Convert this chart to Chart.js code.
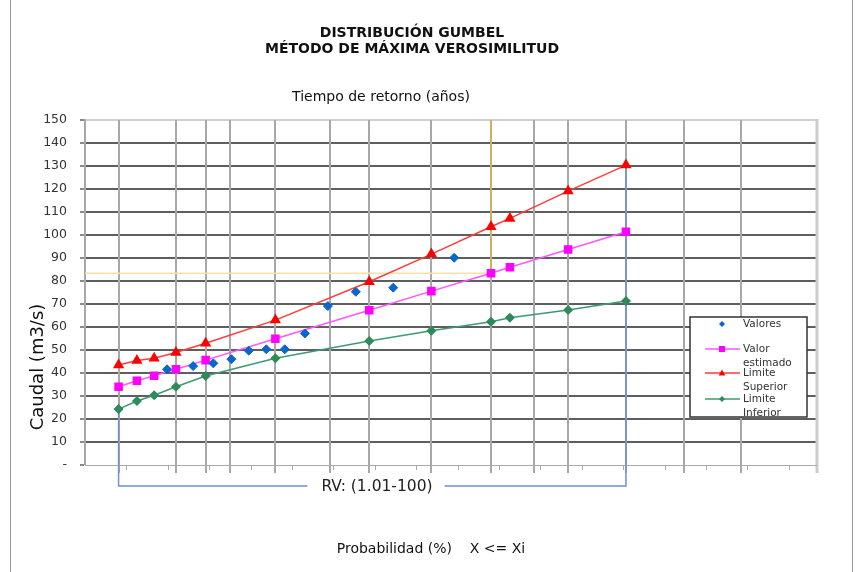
<!DOCTYPE html>
<html>
<head>
<meta charset="utf-8">
<script src="https://cdn.jsdelivr.net/npm/chart.js@4/dist/chart.umd.min.js"></script>
<style>
  html, body { margin: 0; padding: 0; background: #ffffff; }
  #wrap { position: relative; width: 863px; height: 572px; }
</style>
</head>
<body>
<div id="wrap"><canvas id="c" width="863" height="572"></canvas></div>
<script>
// Gumbel plot: probabilities in % (non-exceedance), flows in m3/s
const probRange = [0.1, 99.9];
const probGrid = [1, 10, 20, 30, 50, 70, 80, 90, 95, 97, 98, 99, 99.5, 99.75];

const probEst = [1, 2.5, 5, 10, 20, 50, 80, 90, 95, 96, 98, 99];
const valorEstimado = [34.0, 36.6, 38.8, 41.6, 45.6, 54.9, 67.3, 75.6, 83.4, 86.0, 93.7, 101.4];
const limiteSuperior = [43.5, 45.4, 46.4, 48.9, 52.9, 63.0, 79.7, 91.7, 103.6, 107.2, 119.1, 130.4];
const limiteInferior = [24.3, 27.8, 30.3, 34.0, 38.7, 46.4, 53.9, 58.4, 62.3, 64.0, 67.4, 71.3];

const probObs = [7.69, 15.38, 23.08, 30.77, 38.46, 46.15, 53.85, 61.54, 69.23, 76.92, 84.62, 92.31];
const valores = [41.6, 43.0, 44.2, 46.0, 49.7, 50.3, 50.3, 57.2, 69.1, 75.3, 77.1, 90.1];

const yMin = 0, yMax = 150, yStep = 10;
const designProb = 95;            // T = 20 años
const rvProbs = [1, 99];          // T = 1.01 ... 100
const rvLabel = 'RV: (1.01-100)';

const titleLines = ['DISTRIBUCIÓN GUMBEL', 'MÉTODO DE MÁXIMA VEROSIMILITUD'];
const topAxisTitle = 'Tiempo de retorno (años)';
const bottomAxisTitle = 'Probabilidad (%)    X <= Xi';
const yAxisTitle = 'Caudal (m3/s)';

// reduced Gumbel variate for a non-exceedance probability in %
function gumbel(p) { return -Math.log(-Math.log(p / 100)); }
function pts(ps, vs) { return ps.map((p, i) => ({ x: gumbel(p), y: vs[i] })); }

const FONT = '"DejaVu Sans", Verdana, sans-serif';

function drawMarker(ctx, style, cx, cy, r) {
  if (style === 'rect') {
    ctx.rect(cx - r, cy - r, 2 * r, 2 * r);
  } else if (style === 'triangle') {
    ctx.moveTo(cx, cy - r * 1.2); ctx.lineTo(cx + r * 1.1, cy + r * 0.8); ctx.lineTo(cx - r * 1.1, cy + r * 0.8); ctx.closePath();
  } else if (style === 'rectRot') {
    ctx.moveTo(cx, cy - r); ctx.lineTo(cx + r, cy); ctx.lineTo(cx, cy + r); ctx.lineTo(cx - r, cy); ctx.closePath();
  } else {
    ctx.arc(cx, cy, r, 0, Math.PI * 2);
  }
}

const decor = {
  id: 'decor',
  beforeDatasetsDraw(chart) {
    const { ctx, chartArea: a, scales: { x, y } } = chart;
    ctx.save();
    // vertical grid at return-period probabilities
    ctx.strokeStyle = '#a8a8a8';
    ctx.lineWidth = 2;
    probGrid.forEach(p => {
      const px = Math.round(x.getPixelForValue(gumbel(p)));
      ctx.beginPath(); ctx.moveTo(px, a.top); ctx.lineTo(px, a.bottom + 8); ctx.stroke();
    });
    // right frame of the plot
    ctx.strokeStyle = '#cccccc';
    ctx.lineWidth = 3;
    ctx.beginPath(); ctx.moveTo(a.right, a.top - 1); ctx.lineTo(a.right, a.bottom + 8); ctx.stroke();
    // minor ticks on the bottom axis
    ctx.strokeStyle = '#aaaaaa';
    ctx.lineWidth = 1;
    for (let v = x.min + 0.5; v < x.max; v += 0.5) {
      const px = Math.round(x.getPixelForValue(v)) + 0.5;
      ctx.beginPath(); ctx.moveTo(px, a.bottom); ctx.lineTo(px, a.bottom + 5); ctx.stroke();
    }
    ctx.beginPath(); ctx.moveTo(a.left, a.bottom + 0.5); ctx.lineTo(a.right, a.bottom + 0.5); ctx.stroke();

    // design flow guide lines (T = 20)
    const qd = valorEstimado[probEst.indexOf(designProb)];
    const xd = x.getPixelForValue(gumbel(designProb));
    const yd = y.getPixelForValue(qd);
    ctx.lineWidth = 1.5;
    ctx.strokeStyle = '#fbe0a4';
    ctx.beginPath(); ctx.moveTo(a.left, yd); ctx.lineTo(xd, yd); ctx.stroke();
    ctx.strokeStyle = '#d8b24c';
    ctx.beginPath(); ctx.moveTo(xd, yd); ctx.lineTo(xd, a.top); ctx.stroke();

    // return-period range bracket
    const x1 = x.getPixelForValue(gumbel(rvProbs[0]));
    const x2 = x.getPixelForValue(gumbel(rvProbs[1]));
    const y1 = y.getPixelForValue(limiteInferior[probEst.indexOf(rvProbs[0])]);
    const y2 = y.getPixelForValue(limiteSuperior[probEst.indexOf(rvProbs[1])]);
    const yb = a.bottom + 21;
    ctx.font = '15.5px ' + FONT;
    const tw = ctx.measureText(rvLabel).width;
    const tc = 377;
    ctx.strokeStyle = '#6f8fd8';
    ctx.lineWidth = 1.5;
    ctx.beginPath();
    ctx.moveTo(x1, y1); ctx.lineTo(x1, yb); ctx.lineTo(tc - tw / 2 - 14, yb);
    ctx.moveTo(tc + tw / 2 + 12, yb); ctx.lineTo(x2, yb); ctx.lineTo(x2, y2);
    ctx.stroke();
    ctx.fillStyle = '#222';
    ctx.textAlign = 'center';
    ctx.textBaseline = 'middle';
    ctx.fillText(rvLabel, tc, yb + 1);
    ctx.restore();
  },
  afterDraw(chart) {
    const { ctx } = chart;
    ctx.save();
    // outer frame
    ctx.strokeStyle = '#9a9a9a';
    ctx.lineWidth = 1;
    ctx.beginPath();
    ctx.moveTo(10.5, 0); ctx.lineTo(10.5, 572);
    ctx.moveTo(852.5, 0); ctx.lineTo(852.5, 572);
    ctx.stroke();

    // titles
    ctx.fillStyle = '#111';
    ctx.textAlign = 'center';
    ctx.textBaseline = 'middle';
    ctx.font = 'bold 14px ' + FONT;
    ctx.fillText(titleLines[0], 412, 33);
    ctx.fillText(titleLines[1], 412, 49);
    ctx.font = '14px ' + FONT;
    ctx.fillText(topAxisTitle, 381, 97);
    ctx.fillText(bottomAxisTitle, 431, 549);
    ctx.save();
    ctx.translate(38, 367);
    ctx.rotate(-Math.PI / 2);
    ctx.font = '18px ' + FONT;
    ctx.fillText(yAxisTitle, 0, 0);
    ctx.restore();

    // legend box
    const lx = 690, ly = 317, lw = 117, lh = 100;
    ctx.fillStyle = '#ffffff';
    ctx.fillRect(lx, ly, lw, lh);
    ctx.strokeStyle = '#333';
    ctx.lineWidth = 1.5;
    ctx.strokeRect(lx, ly, lw, lh);
    const rows = [
      { ds: 0, lines: ['Valores'], y: 324 },
      { ds: 1, lines: ['Valor', 'estimado'], y: 349 },
      { ds: 2, lines: ['Limite', 'Superior'], y: 373 },
      { ds: 3, lines: ['Limite', 'Inferior'], y: 399 }
    ];
    ctx.font = '10.5px ' + FONT;
    ctx.textAlign = 'left';
    rows.forEach(r => {
      const d = chart.data.datasets[r.ds];
      if (d.showLine) {
        ctx.strokeStyle = d.borderColor;
        ctx.lineWidth = 1.5;
        ctx.beginPath(); ctx.moveTo(705, r.y); ctx.lineTo(740, r.y); ctx.stroke();
      }
      ctx.fillStyle = d.pointBackgroundColor;
      ctx.beginPath();
      drawMarker(ctx, d.pointStyle, 722, r.y, 3);
      ctx.fill();
      ctx.fillStyle = '#333';
      r.lines.forEach((t, i) => ctx.fillText(t, 743, r.y + i * 14.5));
    });
    ctx.restore();
  }
};

new Chart(document.getElementById('c'), {
  type: 'scatter',
  data: {
    datasets: [
      {
        label: 'Valores',
        data: pts(probObs, valores),
        showLine: false,
        pointStyle: 'rectRot',
        pointRadius: 4.5,
        pointBackgroundColor: '#0a66cc',
        pointBorderColor: '#0a66cc',
        borderColor: '#0a66cc'
      },
      {
        label: 'Valor estimado',
        data: pts(probEst, valorEstimado),
        showLine: true,
        borderColor: '#ff55ff',
        borderWidth: 1.5,
        pointStyle: 'rect',
        pointRadius: 5,
        pointBackgroundColor: '#ff00ff',
        pointBorderColor: '#ff00ff'
      },
      {
        label: 'Limite Superior',
        data: pts(probEst, limiteSuperior),
        showLine: true,
        borderColor: '#ff3b3b',
        borderWidth: 1.5,
        pointStyle: 'triangle',
        pointRadius: 5,
        pointBackgroundColor: '#ff0000',
        pointBorderColor: '#ff0000'
      },
      {
        label: 'Limite Inferior',
        data: pts(probEst, limiteInferior),
        showLine: true,
        borderColor: '#3d9a70',
        borderWidth: 1.5,
        pointStyle: 'rectRot',
        pointRadius: 4,
        pointBackgroundColor: '#2e8b5a',
        pointBorderColor: '#2e8b5a'
      }
    ]
  },
  options: {
    responsive: false,
    animation: false,
    events: [],
    layout: { padding: { left: 0, top: 120, right: 46, bottom: 107 } },
    plugins: { legend: { display: false }, tooltip: { enabled: false }, title: { display: false } },
    scales: {
      x: {
        type: 'linear',
        display: false,
        min: gumbel(probRange[0]),
        max: gumbel(probRange[1])
      },
      y: {
        type: 'linear',
        min: yMin,
        max: yMax,
        afterFit(scale) { scale.width = 85; },
        ticks: {
          stepSize: yStep,
          padding: 13,
          color: '#333',
          font: { family: FONT, size: 12.5 },
          callback: v => (v === 0 ? '-' : v)
        },
        grid: {
          color: c => (c.tick && c.tick.value === yMax ? '#d0d0d0' : '#5e5e5e'),
          lineWidth: c => (c.tick && c.tick.value === 0 ? 0 : 2),
          tickLength: 5,
          tickColor: '#8a8a8a',
          tickWidth: 2
        },
        border: { display: true, color: '#a8a8a8', width: 2 }
      }
    }
  },
  plugins: [decor]
});
</script>
</body>
</html>
